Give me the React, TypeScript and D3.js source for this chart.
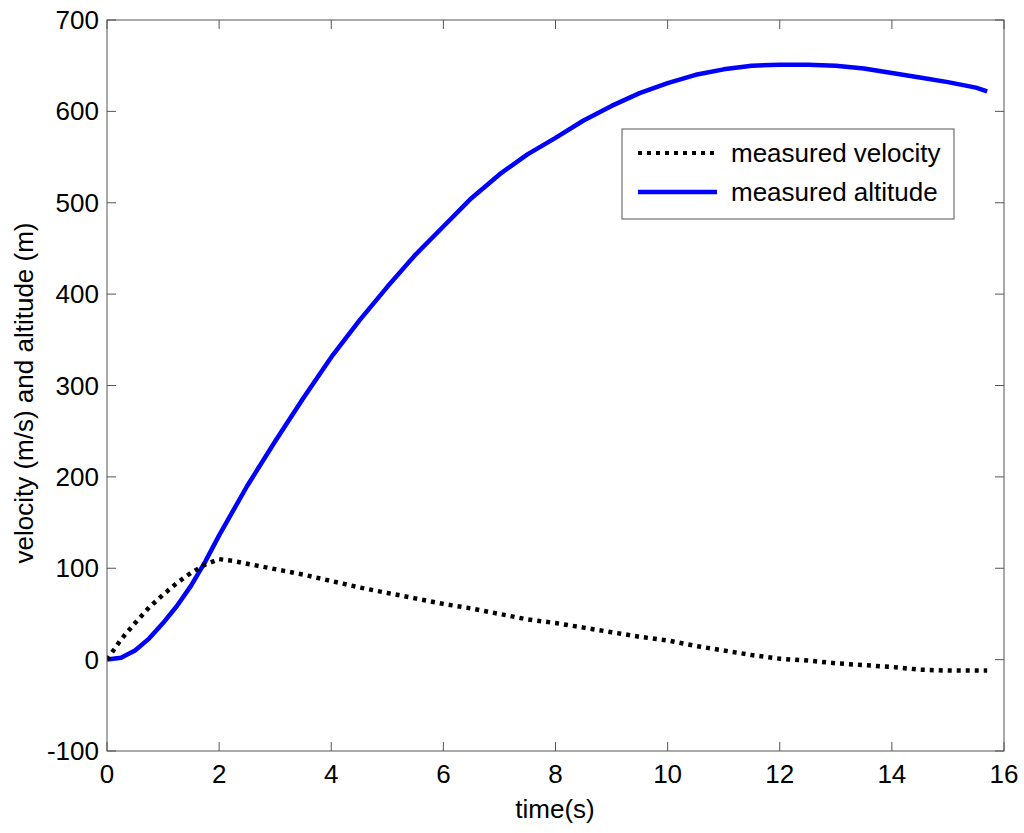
import { scaleLinear, line } from 'd3';

// time samples (s)
const time = [0, 0.25, 0.5, 0.75, 1, 1.25, 1.5, 1.75, 2, 2.25, 2.5, 3, 3.5, 4, 4.5, 5, 5.5, 6, 6.5, 7, 7.5, 8, 8.5, 9, 9.5, 10, 10.5, 11, 11.5, 12, 12.5, 13, 13.5, 14, 14.5, 15, 15.5, 15.7];

// measured velocity (m/s)
const velocity = [0, 22, 40, 57, 71, 84, 95, 104, 110, 108, 105, 99, 93, 86, 79, 73, 67, 61, 56, 50, 44, 40, 35, 30, 25, 21, 15, 10, 5, 1, -1, -4, -6, -8, -11, -12, -12, -12];

// measured altitude (m)
const altitude = [0, 2, 10, 23, 40, 59, 81, 107, 136, 163, 190, 239, 286, 331, 371, 408, 443, 474, 505, 531, 553, 571, 590, 606, 620, 631, 640, 646, 650, 651, 651, 650, 647, 642, 637, 632, 626, 622];

const xTicks = [0, 2, 4, 6, 8, 10, 12, 14, 16];
const yTicks = [-100, 0, 100, 200, 300, 400, 500, 600, 700];

const W = 1024;
const H = 833;
const plot = { left: 107, right: 1004, top: 20, bottom: 751 };
const FONT = '"Liberation Sans", Arial, sans-serif';
const AXIS = '#555';
const TICK = 9;

export default function App() {
  const x = scaleLinear().domain([0, 16]).range([plot.left, plot.right]);
  const y = scaleLinear().domain([-100, 700]).range([plot.bottom, plot.top]);

  const velPath = line<number>()
    .x((_, i) => x(time[i]))
    .y((d) => y(d))(velocity) || '';
  const altPath = line<number>()
    .x((_, i) => x(time[i]))
    .y((d) => y(d))(altitude) || '';

  const legend = { x: 622, y: 129, w: 332, h: 90 };

  return (
    <div style={{ position: 'absolute', left: 0, top: 0 }}>
      <svg width={W} height={H} style={{ display: 'block', background: '#fff' }}>
        <defs>
          <clipPath id="plot-clip">
            <rect x={plot.left} y={plot.top} width={plot.right - plot.left} height={plot.bottom - plot.top} />
          </clipPath>
        </defs>
        <rect width={W} height={H} fill="#fff" />

        {/* ticks on all four sides, pointing inward */}
        {xTicks.map((t) => (
          <g key={`xt${t}`}>
            <line x1={x(t)} x2={x(t)} y1={plot.bottom} y2={plot.bottom - TICK} stroke={AXIS} strokeWidth={1} />
            <line x1={x(t)} x2={x(t)} y1={plot.top} y2={plot.top + TICK} stroke={AXIS} strokeWidth={1} />
            <text x={x(t)} y={783} textAnchor="middle" fontFamily={FONT} fontSize={26} fill="#000">
              {t}
            </text>
          </g>
        ))}
        {yTicks.map((t) => (
          <g key={`yt${t}`}>
            <line x1={plot.left} x2={plot.left + TICK} y1={y(t)} y2={y(t)} stroke={AXIS} strokeWidth={1} />
            <line x1={plot.right} x2={plot.right - TICK} y1={y(t)} y2={y(t)} stroke={AXIS} strokeWidth={1} />
            <text x={99} y={y(t) + 9} textAnchor="end" fontFamily={FONT} fontSize={26} fill="#000">
              {t}
            </text>
          </g>
        ))}

        {/* series */}
        <g clipPath="url(#plot-clip)">
          <path d={altPath} fill="none" stroke="#0000ff" strokeWidth={4.5} strokeLinejoin="round" />
          <path d={velPath} fill="none" stroke="#000" strokeWidth={4.5} strokeDasharray="4 5" />
        </g>

        {/* frame */}
        <rect
          x={plot.left}
          y={plot.top}
          width={plot.right - plot.left}
          height={plot.bottom - plot.top}
          fill="none"
          stroke={AXIS}
          strokeWidth={1}
        />

        {/* axis labels */}
        <text x={555} y={818} textAnchor="middle" fontFamily={FONT} fontSize={26} fill="#000">
          time(s)
        </text>
        <text transform="translate(33, 393) rotate(-90)" textAnchor="middle" fontFamily={FONT} fontSize={26} fill="#000">
          velocity (m/s) and altitude (m)
        </text>

        {/* legend */}
        <rect x={legend.x} y={legend.y} width={legend.w} height={legend.h} fill="#fff" stroke={AXIS} strokeWidth={1} />
        <line x1={638} x2={717} y1={153} y2={153} stroke="#000" strokeWidth={4} strokeDasharray="4 5" />
        <text x={731} y={162} fontFamily={FONT} fontSize={26} fill="#000">
          measured velocity
        </text>
        <line x1={638} x2={717} y1={192} y2={192} stroke="#0000ff" strokeWidth={4.5} />
        <text x={731} y={201} fontFamily={FONT} fontSize={26} fill="#000">
          measured altitude
        </text>
      </svg>
    </div>
  );
}
